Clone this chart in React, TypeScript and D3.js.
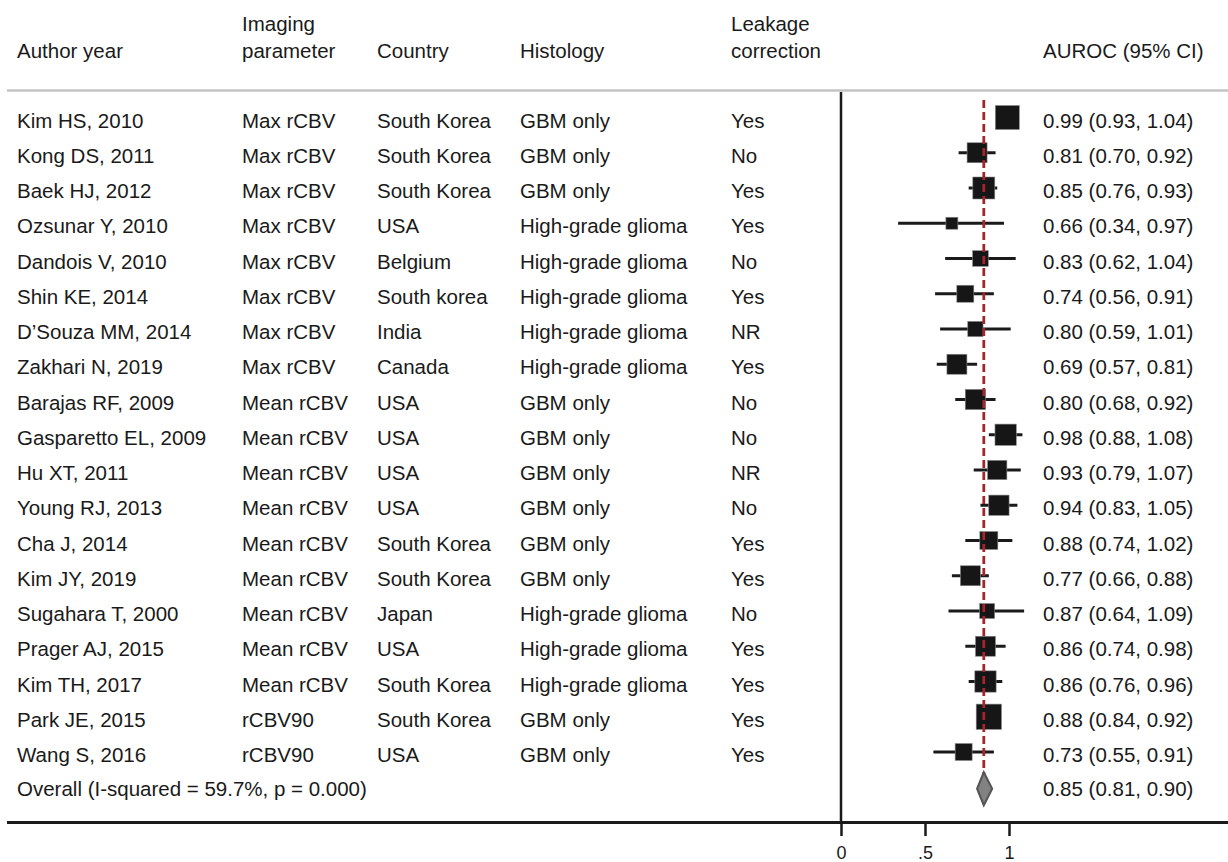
import React, { useEffect, useRef } from "react";
import * as d3 from "d3";

const authors = [
  "Kim HS, 2010", "Kong DS, 2011", "Baek HJ, 2012", "Ozsunar Y, 2010", "Dandois V, 2010",
  "Shin KE, 2014", "D\u2019Souza MM, 2014", "Zakhari N, 2019", "Barajas RF, 2009",
  "Gasparetto EL, 2009", "Hu XT, 2011", "Young RJ, 2013", "Cha J, 2014", "Kim JY, 2019",
  "Sugahara T, 2000", "Prager AJ, 2015", "Kim TH, 2017", "Park JE, 2015", "Wang S, 2016",
];
const params = [
  "Max rCBV", "Max rCBV", "Max rCBV", "Max rCBV", "Max rCBV", "Max rCBV", "Max rCBV", "Max rCBV",
  "Mean rCBV", "Mean rCBV", "Mean rCBV", "Mean rCBV", "Mean rCBV", "Mean rCBV", "Mean rCBV",
  "Mean rCBV", "Mean rCBV", "rCBV90", "rCBV90",
];
const countries = [
  "South Korea", "South Korea", "South Korea", "USA", "Belgium", "South korea", "India", "Canada",
  "USA", "USA", "USA", "USA", "South Korea", "South Korea", "Japan", "USA", "South Korea",
  "South Korea", "USA",
];
const histology = [
  "GBM only", "GBM only", "GBM only", "High-grade glioma", "High-grade glioma", "High-grade glioma",
  "High-grade glioma", "High-grade glioma", "GBM only", "GBM only", "GBM only", "GBM only",
  "GBM only", "GBM only", "High-grade glioma", "High-grade glioma", "High-grade glioma",
  "GBM only", "GBM only",
];
const leakage = [
  "Yes", "No", "Yes", "Yes", "No", "Yes", "NR", "Yes", "No", "No", "NR", "No", "Yes", "Yes",
  "No", "Yes", "Yes", "Yes", "Yes",
];
const est = [0.99, 0.81, 0.85, 0.66, 0.83, 0.74, 0.80, 0.69, 0.80, 0.98, 0.93, 0.94, 0.88, 0.77, 0.87, 0.86, 0.86, 0.88, 0.73];
const lo = [0.93, 0.70, 0.76, 0.34, 0.62, 0.56, 0.59, 0.57, 0.68, 0.88, 0.79, 0.83, 0.74, 0.66, 0.64, 0.74, 0.76, 0.84, 0.55];
const hi = [1.04, 0.92, 0.93, 0.97, 1.04, 0.91, 1.01, 0.81, 0.92, 1.08, 1.07, 1.05, 1.02, 0.88, 1.09, 0.98, 0.96, 0.92, 0.91];
// study weights (%)
const weights = [8.05, 5.59, 6.76, 2.01, 3.44, 4.04, 3.27, 5.59, 5.76, 6.35, 5.2, 5.76, 4.53, 5.59, 3.14, 5.59, 6.35, 8.94, 4.04];

const overallLabel = "Overall (I-squared = 59.7%, p = 0.000)";
const overall = { est: 0.85, lo: 0.81, hi: 0.9 };

const headers = [
  { lines: ["Author year"], col: 0 },
  { lines: ["Imaging", "parameter"], col: 1 },
  { lines: ["Country"], col: 2 },
  { lines: ["Histology"], col: 3 },
  { lines: ["Leakage", "correction"], col: 4 },
  { lines: ["AUROC (95% CI)"], col: 5 },
];
const xTicks = [0, 0.5, 1];

function App() {
  const ref = useRef<SVGSVGElement>(null);

  useEffect(() => {
    const width = 1228;
    const height = 862;
    const font = "'Liberation Sans', Arial, Helvetica, sans-serif";
    const fs = 20.5;
    const colX = [17, 242, 377, 520, 731, 1043];

    const svg = d3.select(ref.current).attr("width", width).attr("height", height);
    svg.selectAll("*").remove();

    const x = d3.scaleLinear().domain([0, 1]).range([841, 1009]);
    const y = d3.scalePoint<number>().domain(d3.range(20)).range([117.5, 117.5 + 19 * 35.25]);
    const size = d3.scaleSqrt().domain([0, 10]).range([0, 26.75]);
    const fmt = d3.format(".2f");

    // header
    const hg = svg.append("g").attr("font-family", font).attr("font-size", fs).attr("fill", "#1a1a1a");
    headers.forEach((h) => {
      const t = hg.append("text").attr("x", colX[h.col]);
      h.lines.forEach((ln, i) => {
        const base = h.lines.length === 2 ? 31 + i * 26.5 : 57.5;
        t.append("tspan").attr("x", colX[h.col]).attr("y", base).text(ln);
      });
    });

    // header rule
    svg.append("line").attr("x1", 7).attr("x2", width).attr("y1", 90.5).attr("y2", 90.5)
      .attr("stroke", "#c4c4c4").attr("stroke-width", 2.5);

    // null line
    svg.append("line").attr("x1", x(0)).attr("x2", x(0)).attr("y1", 92).attr("y2", 822)
      .attr("stroke", "#1a1a1a").attr("stroke-width", 2.5);

    // rows text
    const rows = d3.range(authors.length);
    const cols = [authors, params, countries, histology, leakage];
    const tg = svg.append("g").attr("font-family", font).attr("font-size", fs).attr("fill", "#1a1a1a");
    cols.forEach((arr, c) => {
      tg.selectAll(null).data(rows).enter().append("text")
        .attr("x", colX[c]).attr("y", (i) => (y(i) as number) + 10)
        .text((i) => arr[i]);
    });
    tg.selectAll(null).data(rows).enter().append("text")
      .attr("x", colX[5]).attr("y", (i) => (y(i) as number) + 10)
      .text((i) => `${fmt(est[i])} (${fmt(lo[i])}, ${fmt(hi[i])})`);
    tg.append("text").attr("x", colX[0]).attr("y", (y(19) as number) + 9).text(overallLabel);
    tg.append("text").attr("x", colX[5]).attr("y", (y(19) as number) + 9)
      .text(`${fmt(overall.est)} (${fmt(overall.lo)}, ${fmt(overall.hi)})`);

    // CI lines
    svg.append("g").selectAll("line").data(rows).enter().append("line")
      .attr("x1", (i) => x(lo[i])).attr("x2", (i) => x(hi[i]))
      .attr("y1", (i) => y(i) as number).attr("y2", (i) => y(i) as number)
      .attr("stroke", "#1a1a1a").attr("stroke-width", 3);

    // weight squares
    svg.append("g").selectAll("rect").data(rows).enter().append("rect")
      .attr("x", (i) => x(est[i]) - size(weights[i]) / 2)
      .attr("y", (i) => (y(i) as number) - size(weights[i]) / 2)
      .attr("width", (i) => size(weights[i]))
      .attr("height", (i) => size(weights[i]))
      .attr("fill", "#161616").attr("stroke", "#8a8a8a").attr("stroke-width", 0.6);

    // pooled estimate line
    svg.append("line").attr("x1", x(overall.est)).attr("x2", x(overall.est)).attr("y1", 100).attr("y2", 806)
      .attr("stroke", "#a3262d").attr("stroke-width", 2.8).attr("stroke-dasharray", "8,4");

    // overall diamond
    const oy = (y(19) as number) + 1.5;
    const dh = 16.5;
    svg.append("path")
      .attr("d", d3.line()([
        [x(overall.lo), oy], [x(overall.est), oy - dh], [x(overall.hi), oy], [x(overall.est), oy + dh],
      ]) + "Z")
      .attr("fill", "#828282").attr("stroke", "#555").attr("stroke-width", 2);

    // bottom axis
    svg.append("line").attr("x1", 7).attr("x2", width).attr("y1", 822.5).attr("y2", 822.5)
      .attr("stroke", "#1a1a1a").attr("stroke-width", 3);
    const ax = svg.append("g").attr("transform", "translate(0,822)")
      .call(d3.axisBottom(x).tickValues(xTicks).tickSize(14).tickPadding(10)
        .tickFormat((d) => (d === 0 ? "0" : d === 1 ? "1" : ".5")));
    ax.select(".domain").remove();
    ax.selectAll(".tick line").attr("stroke", "#1a1a1a").attr("stroke-width", 2.5);
    ax.selectAll(".tick text").attr("font-family", font).attr("font-size", 18).attr("fill", "#1a1a1a");
  }, []);

  return (
    <svg ref={ref} style={{ position: "absolute", left: 0, top: 0, background: "#fff" }}></svg>
  );
}

export default App;
